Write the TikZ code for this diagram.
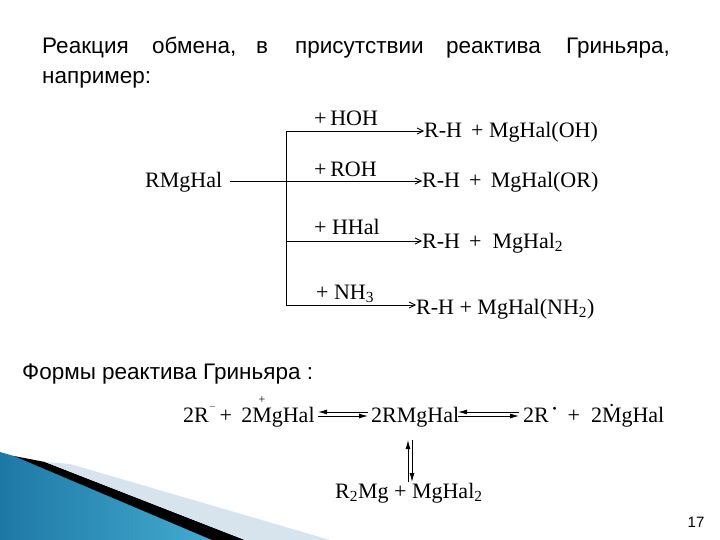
\documentclass[tikz,border=0pt]{standalone}
\usepackage{fontspec}
\setmainfont{Liberation Serif}
\newfontfamily\arial{Liberation Sans}
\usetikzlibrary{arrows.meta}
\definecolor{teal1}{RGB}{30,120,165}
\definecolor{teal2}{RGB}{70,175,210}
\definecolor{pale}{RGB}{215,228,238}
\begin{document}
\begin{tikzpicture}[x=1pt,y=-1pt,
  chem/.style={font=\fontsize{22}{24}\selectfont,inner sep=0pt,anchor=base west},
  txt/.style={font=\arial\fontsize{22.5}{26}\selectfont,inner sep=0pt,anchor=base west},
  br/.style={line width=0.8pt},
  oar/.style={br,-{Straight Barb[length=6pt,width=6pt]}},
  eqa/.style={line width=1pt,-{Latex[length=9pt,width=5pt]}}]
\useasboundingbox (0,0) rectangle (720,540);
% decoration
\shade[left color=teal1,right color=teal2] (0,452) -- (14,456) -- (228,540) -- (0,540) -- cycle;
\fill[black] (14,456) -- (45,462) -- (245,540) -- (212,540) -- cycle;
\fill[pale] (45,462) -- (70,464) -- (330,540) -- (245,540) -- cycle;
% header
\node[txt] (h1a) at (42,54) {Реакция};
\node[txt] (h1b) at (152,54) {обмена,};
\node[txt] (h1c) at (256,54) {в};
\node[txt] (h1d) at (295,54) {присутствии};
\node[txt] (h1e) at (446,54) {реактива};
\node[txt] (h1f) at (566,54) {Гриньяра,};
\node[txt] (h2) at (42,84) {например:};
% top scheme
\node[chem] (r) at (145,188) {RMgHal};
\coordinate (s) at (230,181);
\coordinate (v1) at (286,131);
\coordinate (v3) at (286,241);
\coordinate (v4) at (286,305);
\node[chem] (p1) at (424,138) {R-H\, + MgHal(OH)};
\node[chem] (p2) at (422,188) {R-H\, + \,MgHal(OR)};
\node[chem] (p3) at (422,248) {R-H\, + \ MgHal\textsubscript{2}};
\node[chem] (p4) at (416,314) {R-H + MgHal(NH\textsubscript{2})};
\draw[br] (v1) -- (v4);
\draw[oar] (s) -- (s -| p2.west);
\draw[oar] (v1) -- (v1 -| p1.west);
\draw[oar] (v3) -- (v3 -| p3.west);
\draw[oar] (v4) -- (v4 -| p4.west);
\node[chem] (l1) at (314,126) {+\,HOH};
\node[chem] (l2) at (314,177) {+\,ROH};
\node[chem] (l3) at (314,235) {+\ HHal};
\node[chem] (l4) at (316,299) {+\ NH\textsubscript{3}};
% forms
\node[txt] (f) at (22,379) {Формы реактива Гриньяра :};
\node[chem] (e1) at (183,422) {2R\raisebox{1.2ex}{\small$-$}\,+\, 2MgHal};
\node[font=\fontsize{12}{12}\selectfont,inner sep=0pt] (plus) at (262,400) {+};
\node[chem] (e2) at (371,422) {2RMgHal};
\node[chem] (e3) at (523,422) {2R\,\raisebox{1.1ex}{\fontsize{7}{7}\selectfont$\bullet$}\ \ +\ \ 2\.{M}gHal};
\node[chem] (e4) at (335,498) {R\textsubscript{2}Mg + MgHal\textsubscript{2}};
\coordinate (a1) at (318,414);
\coordinate (a2) at (368,414);
\coordinate (a3) at (458,414);
\coordinate (a4) at (519,414);
\draw[eqa] ([yshift=-2]a1) -- ([yshift=-2]a2);
\draw[eqa] ([yshift=2]a2) -- ([yshift=2]a1);
\draw[eqa] ([yshift=-2]a3) -- ([yshift=-2]a4);
\draw[eqa] ([yshift=2]a4) -- ([yshift=2]a3);
\coordinate (va) at (410,440);
\coordinate (vb) at (410,482);
\draw[eqa] ([xshift=2]va) -- ([xshift=2]vb);
\draw[eqa] ([xshift=-2]vb) -- ([xshift=-2]va);
\node[font=\arial\fontsize{15}{17}\selectfont,inner sep=0pt] (pg) at (696,522) {17};
\end{tikzpicture}
\end{document}
